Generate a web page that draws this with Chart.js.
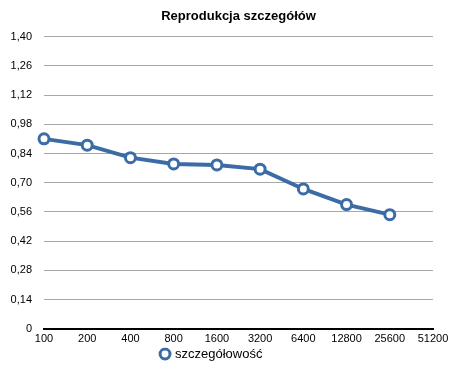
<!DOCTYPE html>
<html>
<head>
<meta charset="utf-8">
<script src="https://cdn.jsdelivr.net/npm/chart.js@4"></script>
<style>
  html, body { margin: 0; padding: 0; background: #fff; }
  #wrap { width: 462px; height: 369px; }
</style>
</head>
<body>
<div id="wrap"><canvas id="chart" width="462" height="369"></canvas></div>
<script>
const chartTitle = "Reprodukcja szczegółów";
const seriesName = "szczegółowość";
const xLabels = ["100", "200", "400", "800", "1600", "3200", "6400", "12800", "25600", "51200"];
const detailValues = [0.91, 0.88, 0.82, 0.79, 0.785, 0.765, 0.67, 0.595, 0.547];
const yTicks = [0, 0.14, 0.28, 0.42, 0.56, 0.70, 0.84, 0.98, 1.12, 1.26, 1.40];

const lineColor = "#3b6ca6";
const fontFamily = "'Liberation Sans', Arial, Helvetica, sans-serif";

// the original places title and legend a bit off the canvas middle
const nudgeBoxes = {
    id: "nudgeBoxes",
    afterLayout(chart) {
        const mid = (chart.chartArea.left + chart.chartArea.right) / 2;
        const t = chart.titleBlock;
        if (t) {
            const d = mid - (t.left + t.right) / 2;
            t.left += d;
            t.right += d;
        }
        const lg = chart.legend;
        if (lg) {
            const dx = 212 - (lg.left + lg.right) / 2;
            lg.left += dx;
            lg.right += dx;
            const dy = 347.5 - lg.top;
            lg.top += dy;
            lg.bottom += dy;
        }
    },
};

const ctx = document.getElementById("chart").getContext("2d");
new Chart(ctx, {
    type: "line",
    data: {
        labels: xLabels,
        datasets: [{
            label: seriesName,
            data: detailValues,
            borderColor: lineColor,
            backgroundColor: "#ffffff",
            borderWidth: 4,
            pointRadius: 5,
            pointBorderWidth: 3,
            pointBackgroundColor: "#ffffff",
            pointBorderColor: lineColor,
            tension: 0,
        }],
    },
    plugins: [nudgeBoxes],
    options: {
        responsive: false,
        animation: false,
        layout: {
            padding: {left: 0, right: 29, top: 0, bottom: -4},
        },
        plugins: {
            title: {
                display: true,
                text: chartTitle,
                color: "#000",
                font: {family: fontFamily, size: 13, weight: "bold"},
                padding: {top: 9, bottom: 12},
            },
            legend: {
                position: "bottom",
                labels: {
                    color: "#000",
                    font: {family: fontFamily, size: 13},
                    usePointStyle: true,
                    pointStyle: "circle",
                    boxWidth: 7,
                    boxHeight: 7,
                    padding: 0,
                },
            },
            tooltip: {enabled: false},
        },
        scales: {
            x: {
                type: "category",
                offset: false,
                grid: {display: false, drawTicks: false},
                border: {display: true, color: "#000", width: 2},
                ticks: {
                    color: "#000",
                    font: {family: fontFamily, size: 11},
                    padding: 4,
                    maxRotation: 0,
                    autoSkip: false,
                },
            },
            y: {
                min: 0,
                max: 1.4,
                afterBuildTicks: (axis) => {
                    axis.ticks = yTicks.map(v => ({value: v}));
                },
                afterFit: (axis) => {
                    axis.width = 44;
                },
                grid: {color: "#a8a8a8", lineWidth: 1, drawTicks: false},
                border: {display: false},
                ticks: {
                    color: "#000",
                    font: {family: fontFamily, size: 11},
                    padding: 12,
                    callback: (v) => v === 0 ? "0" : Number(v).toFixed(2).replace(".", ","),
                },
            },
        },
    },
});
</script>
</body>
</html>
